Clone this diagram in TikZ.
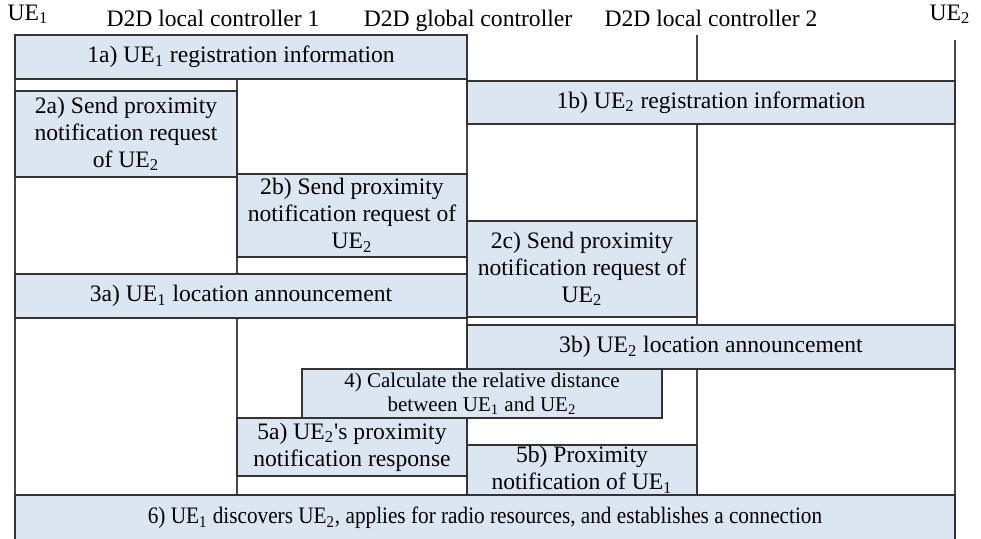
\documentclass[tikz,border=0pt]{standalone}
\usepackage{fontspec}
\usepackage{graphicx}
\usepackage{tikz}
\setmainfont{Liberation Serif}
\newcommand{\ue}[1]{UE\textsubscript{#1}}
\definecolor{cajafondo}{HTML}{DCE6F2}
\definecolor{cajaborde}{HTML}{333333}
\tikzstyle{mensaje} = [draw=cajaborde, fill=cajafondo, line width=0.6pt, rectangle, inner sep=0pt, align=center, font=\fontsize{11.8}{13.5}\selectfont]
\tikzstyle{cabecera} = [anchor=base, inner sep=0pt, font=\fontsize{11.8}{13.5}\selectfont]
\tikzstyle{vida} = [draw=black!72, line width=0.6pt]

\begin{document}
\begin{tikzpicture}[x=0.5pt,y=-0.5pt]
		\useasboundingbox (0,0) rectangle (981,538);
		% cabeceras
		\node[cabecera] (hue1) at (28,20) {\ue{1}};
		\node[cabecera] (hlc1) at (213,26) {D2D local controller 1};
		\node[cabecera] (hgc) at (468,26) {D2D global controller};
		\node[cabecera] (hlc2) at (711,26) {D2D local controller 2};
		\node[cabecera] (hue2) at (950,20) {\ue{2}};
		% lineas de vida
		\coordinate (ue1a) at (15,35);   \coordinate (ue1b) at (15,495);
		\coordinate (lc1a) at (237,35);  \coordinate (lc1b) at (237,495);
		\coordinate (gca) at (467,35);   \coordinate (gcb) at (467,495);
		\coordinate (lc2a) at (697,35);  \coordinate (lc2b) at (697,495);
		\coordinate (ue2a) at (955,40);  \coordinate (ue2b) at (955,495);
		\draw[vida] (ue1a) -- (ue1b);
		\draw[vida] (lc1a) -- (lc1b);
		\draw[vida] (gca) -- (gcb);
		\draw[vida] (lc2a) -- (lc2b);
		\draw[vida] (ue2a) -- (ue2b);
		% mensajes
		\node[mensaje, minimum width=226pt, minimum height=22pt] (m1a) at (241,57) {1a) \ue{1} registration information};
		\node[mensaje, minimum width=244pt, minimum height=21.5pt] (m1b) at (711,102.5) {1b) \ue{2} registration information};
		\node[mensaje, minimum width=111pt, minimum height=43pt] (m2a) at (126,134) {2a) Send proximity\\notification request\\of \ue{2}};
		\node[mensaje, minimum width=115pt, minimum height=41.5pt] (m2b) at (352,215.5) {2b) Send proximity\\notification request of\\\ue{2}};
		\node[mensaje, minimum width=115pt, minimum height=48pt] (m2c) at (582,269) {2c) Send proximity\\notification request of\\\ue{2}};
		\node[mensaje, minimum width=226pt, minimum height=22pt] (m3a) at (241,296) {3a) \ue{1} location announcement};
		\node[mensaje, minimum width=244pt, minimum height=22pt] (m3b) at (711,347) {3b) \ue{2} location announcement};
		\node[mensaje, minimum width=180pt, minimum height=24.5pt, font=\fontsize{10.5}{12}\selectfont] (m4) at (482,393.5) {4) Calculate the relative distance\\between \ue{1} and \ue{2}};
		\node[mensaje, minimum width=115pt, minimum height=29pt] (m5a) at (352,447) {5a) \ue{2}\textquotesingle s proximity\\notification response};
		\node[mensaje, minimum width=115pt, minimum height=25pt] (m5b) at (582,470) {5b) Proximity\\notification of \ue{1}};
		\node[mensaje, minimum width=470pt, minimum height=23pt] (m6) at (485,518) {\scalebox{0.9}[1]{6) \ue{1} discovers \ue{2}, applies for radio resources, and establishes a connection}};
	\end{tikzpicture}
\end{document}
